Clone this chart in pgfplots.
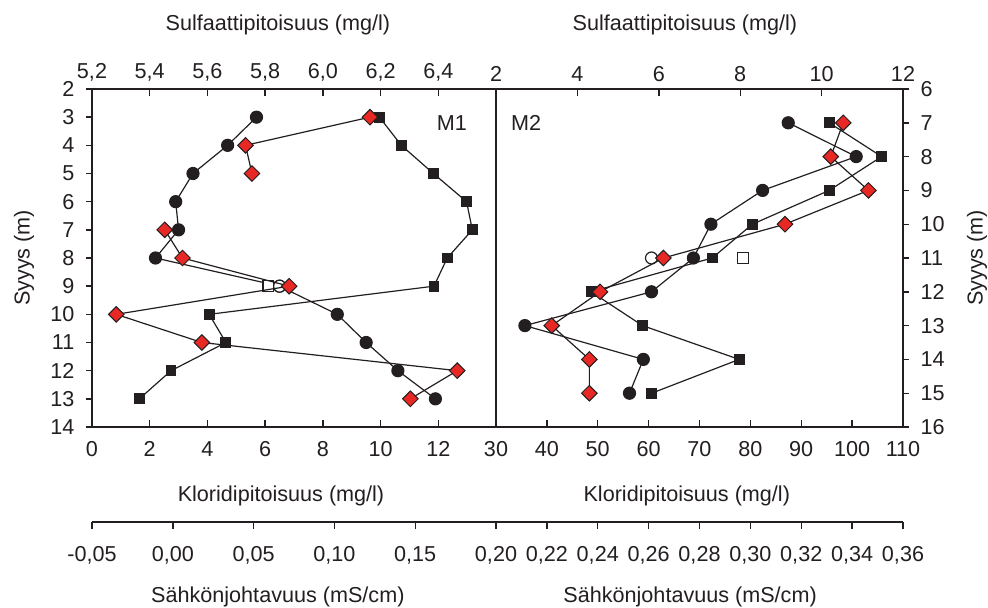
\documentclass[border=0pt]{standalone}
\usepackage{fontspec}
\setmainfont{Liberation Sans}
\usepackage{pgfplots}
\pgfplotsset{compat=1.18}
\usepackage{pgfplotstable}

\definecolor{ink}{RGB}{35,31,32}
\definecolor{dred}{RGB}{232,40,36}

% ---------- M1 ----------
\pgfplotstableread{
x y
5.77 3
5.67 4
5.55 5
5.49 6
5.50 7
5.42 8
5.85 9
6.05 10
6.15 11
6.26 12
6.39 13
}\mOneSulf
\pgfplotstableread{
x y
9.96 3
10.72 4
11.83 5
12.98 6
13.18 7
12.31 8
11.85 9
4.06 10
4.64 11
2.74 12
1.64 13
}\mOneCl
\pgfplotstableread{
x y
0.122 3
0.045 4
0.049 5
nan 6
-0.005 7
0.006 8
0.072 9
-0.035 10
0.018 11
0.176 12
0.147 13
}\mOneEc

% ---------- M2 ----------
\pgfplotstableread{
x y
9.18 7
10.85 8
8.55 9
7.28 10
6.85 11
5.82 12
2.71 13
5.62 14
5.28 15
}\mTwoSulf
\pgfplotstableread{
x y
95.5 7
105.8 8
95.5 9
80.4 10
72.5 11
48.7 12
58.8 13
77.8 14
60.6 15
}\mTwoCl
\pgfplotstableread{
x y
0.3365 7
0.3316 8
0.3464 9
0.3136 10
0.2658 11
0.2409 12
0.2219 13
0.2367 14
0.2367 15
}\mTwoEc

\pgfplotsset{
  base/.style={
    scale only axis,
    axis line style={line width=0.7bp, ink},
    every tick/.style={line width=0.7bp, ink},
    major tick length=3.5bp,
    tick label style={text=ink},
    /pgf/number format/assume math mode=true,
    clip=false,
  },
  panel/.style={base, height=169bp, y dir=reverse},
  ser/.style={ink, line width=0.6bp},
  circ/.style={ser, mark=*, mark size=3bp, mark options={fill=ink, draw=ink}},
  opencirc/.style={only marks, mark=*, mark size=3bp, mark options={fill=white, draw=ink, line width=0.6bp}},
  sq/.style={ser, mark=square*, mark size=2.4bp, mark options={fill=ink, draw=ink}},
  opensq/.style={only marks, mark=square*, mark size=2.7bp, mark options={fill=white, draw=ink, line width=0.6bp}},
  dia/.style={ser, mark=square*, mark size=2.75bp, unbounded coords=jump,
    mark options={fill=dred, draw=ink, rotate=45, line width=0.5bp}},
}

\begin{document}
\fontsize{10.8bp}{13bp}\selectfont
\begin{tikzpicture}
\useasboundingbox (-46bp,-90.5bp) rectangle (448bp,213.5bp);

% ================= left panel (M1) =================
% depth axis
\begin{axis}[panel, width=202bp, xmin=0, xmax=1, ymin=2, ymax=14,
  axis x line=none, xtick=\empty, axis y line=box, ytick pos=left,
  ytick={2,3,...,14}, tick align=outside, major tick length=3bp,
  yticklabel style={xshift=-2bp}]
  \node[rotate=90, text=ink] at ([xshift=-34bp]axis cs:0,8) {Syyys (m)};
\end{axis}
% sulfate (top)
\begin{axis}[panel, width=202bp, xmin=5.2, xmax=6.6, ymin=2, ymax=14,
  axis y line=none, ytick=\empty, axis x line*=top, tick align=inside,
  xtick={5.2,5.4,5.6,5.8,6.0,6.2,6.4},
  xticklabels={{5,2},{5,4},{5,6},{5,8},{6,0},{6,2},{6,4}}]
  \addplot[circ] table {\mOneSulf};
  \addplot[opencirc] coordinates {(5.85,9)};
  \node[text=ink] at ([yshift=32bp]axis cs:5.844,2) {Sulfaattipitoisuus (mg/l)};
  \node[text=ink] at (axis cs:6.447,3.21) {M1};
\end{axis}
% chloride (bottom)
\begin{axis}[panel, width=202bp, xmin=0, xmax=14, ymin=2, ymax=14,
  axis y line=none, ytick=\empty, axis x line*=bottom, tick align=inside,
  xtick={0,2,4,6,8,10,12}, xticklabels={0,2,4,6,8,10,12},
  xticklabel style={yshift=-3.5bp}]
  \addplot[sq] table {\mOneCl};
  \addplot[opensq] coordinates {(6.11,9)};
  \node[text=ink] at ([yshift=-34.5bp]axis cs:6.55,14) {Kloridipitoisuus (mg/l)};
\end{axis}
% conductivity (data)
\begin{axis}[panel, width=202bp, xmin=-0.05, xmax=0.2, ymin=2, ymax=14, hide axis]
  \addplot[dia] table {\mOneEc};
\end{axis}
% conductivity (scale)
\begin{axis}[base, width=202bp, height=10bp, at={(0,-47.5bp)}, anchor=south west,
  xmin=-0.05, xmax=0.2, ymin=0, ymax=1,
  axis y line=none, ytick=\empty, axis x line*=bottom, tick align=outside,
  xtick={-0.05,0,0.05,0.1,0.15},
  xticklabels={{-0,05},{0,00},{0,05},{0,10},{0,15}},
  xticklabel style={yshift=-5bp}]
  \node[text=ink] at ([yshift=-37.5bp]axis cs:0.065,0) {Sähkönjohtavuus (mS/cm)};
\end{axis}

% ================= right panel (M2) =================
\begin{axis}[panel, width=203.5bp, at={(202bp,0)}, anchor=south west,
  xmin=0, xmax=1, ymin=6, ymax=16,
  axis x line=none, xtick=\empty, axis y line=box, ytick pos=right,
  ytick={6,7,...,16}, tick align=outside, major tick length=3bp,
  yticklabel style={xshift=2bp}]
  \node[rotate=90, text=ink] at ([xshift=37bp]axis cs:1,11) {Syyys (m)};
\end{axis}
\begin{axis}[panel, width=203.5bp, at={(202bp,0)}, anchor=south west,
  xmin=2, xmax=12, ymin=6, ymax=16,
  axis y line=none, ytick=\empty, axis x line*=top, tick align=inside,
  xtick={2,4,6,8,10,12}, xticklabels={2,4,6,8,10,12}]
  \addplot[circ] table {\mTwoSulf};
  \addplot[opencirc] coordinates {(5.82,11)};
  \node[text=ink] at ([yshift=32bp]axis cs:6.64,6) {Sulfaattipitoisuus (mg/l)};
  \node[text=ink] at (axis cs:2.74,7.0) {M2};
\end{axis}
\begin{axis}[panel, width=203.5bp, at={(202bp,0)}, anchor=south west,
  xmin=30, xmax=110, ymin=6, ymax=16,
  axis y line=none, ytick=\empty, axis x line*=bottom, tick align=inside,
  xtick={30,40,...,110}, xticklabels={30,40,50,60,70,80,90,100,110},
  xticklabel style={yshift=-3.5bp}]
  \addplot[sq] table {\mTwoCl};
  \addplot[opensq] coordinates {(78.5,11)};
  \node[text=ink] at ([yshift=-34.5bp]axis cs:67.5,16) {Kloridipitoisuus (mg/l)};
\end{axis}
\begin{axis}[panel, width=203.5bp, at={(202bp,0)}, anchor=south west,
  xmin=0.2, xmax=0.36, ymin=6, ymax=16, hide axis]
  \addplot[dia] table {\mTwoEc};
\end{axis}
\begin{axis}[base, width=203.5bp, height=10bp, at={(202bp,-47.5bp)}, anchor=south west,
  xmin=0.2, xmax=0.36, ymin=0, ymax=1,
  axis y line=none, ytick=\empty, axis x line*=bottom, tick align=outside,
  xtick={0.2,0.22,0.24,0.26,0.28,0.3,0.32,0.34,0.36},
  xticklabels={{0,20},{0,22},{0,24},{0,26},{0,28},{0,30},{0,32},{0,34},{0,36}},
  xticklabel style={yshift=-5bp}]
  \node[text=ink] at ([yshift=-37.5bp]axis cs:0.2763,0) {Sähkönjohtavuus (mS/cm)};
\end{axis}
\end{tikzpicture}
\end{document}
